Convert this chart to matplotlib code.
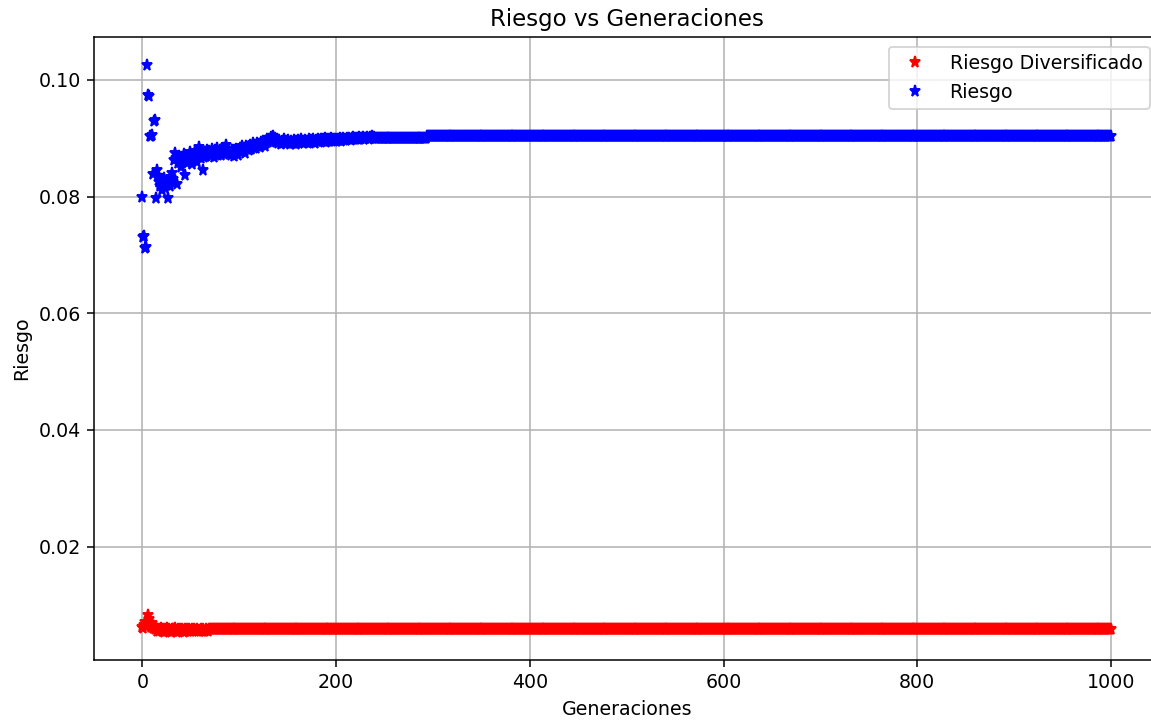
import matplotlib
matplotlib.use("Agg")
import matplotlib.pyplot as plt

# Riesgo por generación (generaciones 0..1000)
riesgo_inicio = [
    0.0800, 0.0731, 0.0733, 0.0712, 0.0714, 0.1025, 0.0974, 0.0972, 0.0903, 0.0903,
    0.0905, 0.0838, 0.0929, 0.0931, 0.0798, 0.0845, 0.0836, 0.0825, 0.0818, 0.0830,
    0.0812, 0.0822, 0.0832, 0.0815, 0.0826, 0.0820, 0.0798, 0.0829, 0.0818, 0.0833,
    0.0825, 0.0840, 0.0830, 0.0862, 0.0874, 0.0866, 0.0822, 0.0858, 0.0870, 0.0862,
    0.0851, 0.0868, 0.0860, 0.0873, 0.0837, 0.0865, 0.0858, 0.0870, 0.0862, 0.0876,
    0.0866, 0.0855, 0.0872, 0.0864, 0.0878, 0.0868, 0.0860, 0.0874, 0.0885, 0.0870,
    0.0866, 0.0878, 0.0872, 0.0845, 0.0868, 0.0876, 0.0870, 0.0880, 0.0874, 0.0878,
    0.0876, 0.0870, 0.0881, 0.0874, 0.0868, 0.0879, 0.0873, 0.0883, 0.0871, 0.0877,
    0.0880, 0.0872, 0.0878, 0.0884, 0.0874, 0.0879, 0.0888, 0.0875, 0.0881, 0.0873,
    0.0877, 0.0872, 0.0880, 0.0875, 0.0870, 0.0879, 0.0874, 0.0882, 0.0876, 0.0871,
    0.0880, 0.0884, 0.0877, 0.0886, 0.0879, 0.0883, 0.0875, 0.0887, 0.0881, 0.0885,
    0.0879, 0.0888, 0.0882, 0.0886, 0.0891, 0.0884, 0.0889, 0.0883, 0.0892, 0.0887,
    0.0890, 0.0885, 0.0893, 0.0888, 0.0895, 0.0890, 0.0886, 0.0896, 0.0891, 0.0898,
    0.0893, 0.0899, 0.0895, 0.0902, 0.0897, 0.0903, 0.0899, 0.0901, 0.0894, 0.0898,
    0.0892, 0.0897, 0.0894, 0.0890, 0.0896, 0.0893, 0.0898, 0.0891, 0.0895, 0.0892,
    0.0897, 0.0893, 0.0890, 0.0896, 0.0894, 0.0891, 0.0897, 0.0893, 0.0890, 0.0895,
    0.0893, 0.0897, 0.0892, 0.0895, 0.0898, 0.0893, 0.0896, 0.0891, 0.0897, 0.0894,
    0.0896, 0.0892, 0.0898, 0.0894, 0.0897, 0.0893, 0.0899, 0.0895, 0.0892, 0.0897,
    0.0895, 0.0898, 0.0894, 0.0897, 0.0899, 0.0895, 0.0898, 0.0896, 0.0900, 0.0894,
    0.0897, 0.0899, 0.0895, 0.0898, 0.0896, 0.0900, 0.0897, 0.0899, 0.0895, 0.0898,
    0.0898, 0.0896, 0.0899, 0.0897, 0.0900, 0.0896, 0.0898, 0.0901, 0.0897, 0.0899,
    0.0897, 0.0900, 0.0898, 0.0901, 0.0899, 0.0897, 0.0900, 0.0902, 0.0898, 0.0900,
    0.0899, 0.0901, 0.0898, 0.0900, 0.0902, 0.0899, 0.0901, 0.0900, 0.0902, 0.0899,
    0.0901, 0.0900, 0.0902, 0.0901, 0.0899, 0.0902, 0.0900, 0.0903, 0.0901, 0.0902,
]
# tramos planos finales: (valor, número de generaciones)
riesgo_meseta = [0.0901, 0.0903]
riesgo_meseta_n = [54, 707]

riesgo_div_inicio = [
    0.0062, 0.0060, 0.0066, 0.0071, 0.0064, 0.0068, 0.0082, 0.0076, 0.0066, 0.0062,
    0.0069, 0.0060, 0.0064, 0.0058, 0.0061, 0.0056, 0.0059, 0.0055, 0.0058, 0.0061,
    0.0056, 0.0059, 0.0054, 0.0058, 0.0056, 0.0060, 0.0055, 0.0058, 0.0057, 0.0054,
    0.0059, 0.0056, 0.0058, 0.0055, 0.0060, 0.0057, 0.0054, 0.0058, 0.0056, 0.0059,
    0.0055, 0.0058, 0.0057, 0.0054, 0.0058, 0.0056, 0.0059, 0.0055, 0.0058, 0.0057,
    0.0055, 0.0058, 0.0056, 0.0059, 0.0055, 0.0057, 0.0058, 0.0055, 0.0057, 0.0056,
    0.0058, 0.0055, 0.0057, 0.0058, 0.0056, 0.0055, 0.0058, 0.0057, 0.0056, 0.0058,
]
riesgo_div_meseta = [0.0058]
riesgo_div_meseta_n = [931]


def expand(inicio, valores, cuentas):
    serie = list(inicio)
    for v, n in zip(valores, cuentas):
        serie += [v] * n
    return serie


riesgo = expand(riesgo_inicio, riesgo_meseta, riesgo_meseta_n)
riesgo_div = expand(riesgo_div_inicio, riesgo_div_meseta, riesgo_div_meseta_n)
generaciones = list(range(len(riesgo)))

DPI = 137
fig = plt.figure(figsize=(1151 / DPI, 721 / DPI), dpi=DPI)
fig.subplots_adjust(left=0.0817, right=1.0074, bottom=0.0846, top=0.9487)
ax = fig.add_subplot(111)

ax.plot(generaciones, riesgo_div, 'r*', label='Riesgo Diversificado')
ax.plot(generaciones, riesgo, 'b*', label='Riesgo')
ax.set_xlabel('Generaciones')
ax.set_ylabel('Riesgo')
ax.set_title('Riesgo vs Generaciones')
ax.legend(loc='upper right')
ax.grid(True)

fig.savefig('out.png', dpi=DPI)
